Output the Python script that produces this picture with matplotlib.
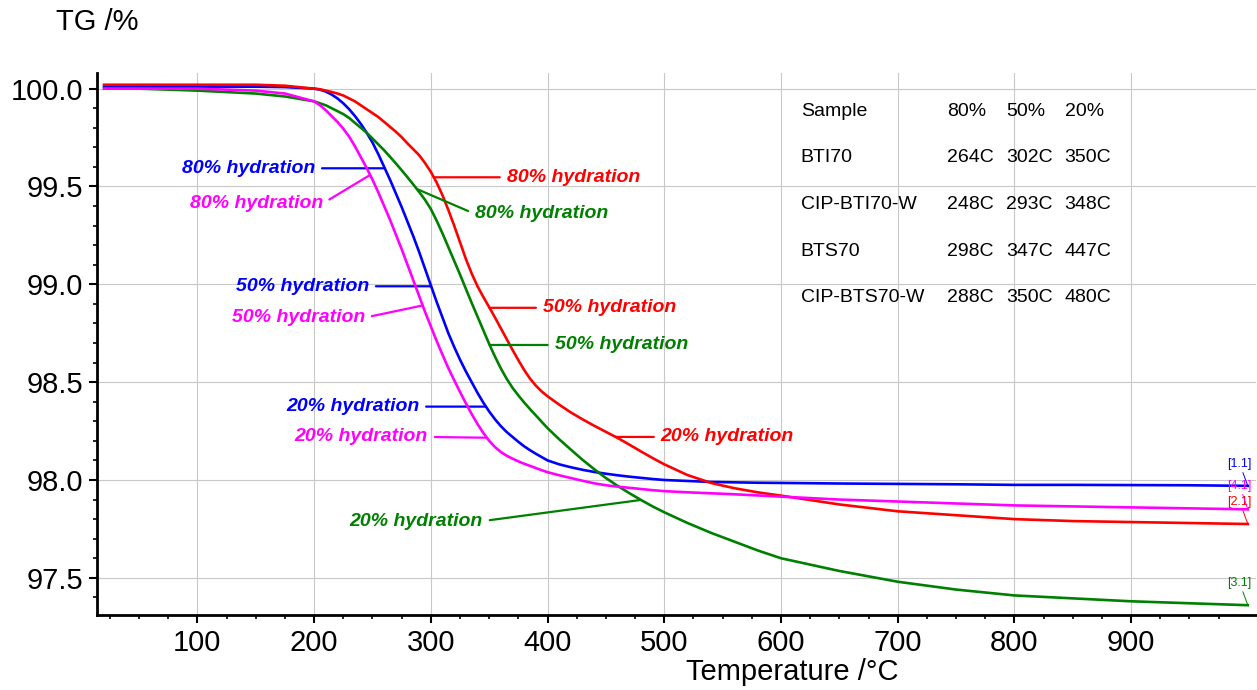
import numpy as np
import matplotlib.pyplot as plt
from matplotlib.ticker import MultipleLocator, FixedLocator, FormatStrFormatter

plt.rcParams['font.family'] = ['Liberation Sans', 'DejaVu Sans']

# TG curves: temperature (°C) and remaining mass (%)
temps = [20, 50, 100, 150, 175,
         200, 205, 210, 215, 220, 225, 230, 235, 240, 245, 250, 255, 260, 265, 270,
         275, 280, 285, 290, 295, 300, 305, 310, 315, 320, 325, 330, 335, 340, 345,
         350, 355, 360, 365, 370, 375, 380, 385, 390, 395, 400,
         410, 420, 430, 440, 450, 460, 470, 480, 490, 500,
         520, 540, 560, 580, 600,
         650, 700, 750, 800, 850, 900, 950, 1000]

tg_bti70 = [100.01, 100.01, 100.01, 100.01, 100.008,
            100.0, 99.995, 99.985, 99.97, 99.95, 99.925, 99.895, 99.86, 99.82, 99.775,
            99.725, 99.665, 99.60, 99.535, 99.465, 99.395, 99.32, 99.245, 99.165, 99.08,
            98.995, 98.91, 98.83, 98.75, 98.68, 98.615, 98.555, 98.50, 98.445, 98.395,
            98.35, 98.31, 98.275, 98.245, 98.22, 98.195, 98.172, 98.152, 98.134, 98.117, 98.10,
            98.08, 98.065, 98.052, 98.041, 98.032, 98.024, 98.017, 98.011, 98.005, 98.0,
            97.995, 97.99, 97.988, 97.986, 97.985,
            97.982, 97.98, 97.978, 97.975, 97.975, 97.974, 97.973, 97.97]

tg_bts70 = [100.02, 100.02, 100.02, 100.02, 100.015,
            100.0, 99.997, 99.99, 99.983, 99.975, 99.965, 99.95, 99.935, 99.915, 99.895,
            99.875, 99.855, 99.83, 99.805, 99.78, 99.752, 99.72, 99.69, 99.66, 99.62,
            99.575, 99.52, 99.455, 99.38, 99.30, 99.215, 99.13, 99.055, 98.99, 98.935,
            98.883, 98.83, 98.775, 98.72, 98.665, 98.612, 98.562, 98.518, 98.482, 98.452, 98.428,
            98.385, 98.345, 98.31, 98.277, 98.246, 98.215, 98.181, 98.146, 98.112, 98.08,
            98.025, 97.985, 97.958, 97.937, 97.92,
            97.875, 97.84, 97.82, 97.80, 97.79, 97.785, 97.78, 97.775]

tg_cip_bts70 = [100.0, 100.0, 99.99, 99.975, 99.96,
                99.935, 99.925, 99.915, 99.90, 99.885, 99.87, 99.85, 99.825, 99.80, 99.775,
                99.745, 99.715, 99.685, 99.652, 99.618, 99.583, 99.547, 99.51, 99.472, 99.432,
                99.385, 99.325, 99.26, 99.19, 99.12, 99.05, 98.977, 98.905, 98.835, 98.765,
                98.695, 98.63, 98.57, 98.517, 98.471, 98.432, 98.396, 98.362, 98.33, 98.297, 98.265,
                98.208, 98.155, 98.103, 98.055, 98.01, 97.97, 97.933, 97.898, 97.865, 97.835,
                97.78, 97.73, 97.685, 97.64, 97.60,
                97.535, 97.48, 97.44, 97.41, 97.395, 97.38, 97.37, 97.36]

tg_cip_bti70 = [100.0, 100.0, 100.0, 99.99, 99.975,
                99.935, 99.915, 99.89, 99.86, 99.83, 99.795, 99.755, 99.705, 99.65, 99.595,
                99.535, 99.47, 99.40, 99.33, 99.255, 99.18, 99.10, 99.02, 98.94, 98.86,
                98.785, 98.71, 98.64, 98.572, 98.51, 98.45, 98.392, 98.337, 98.286, 98.24,
                98.20, 98.168, 98.143, 98.124, 98.109, 98.095, 98.083, 98.072, 98.061, 98.05, 98.04,
                98.024, 98.01, 97.996, 97.983, 97.973, 97.966, 97.96, 97.954, 97.948, 97.943,
                97.937, 97.932, 97.927, 97.921, 97.915,
                97.90, 97.89, 97.88, 97.87, 97.865, 97.86, 97.855, 97.85]

# temperatures at 80 / 50 / 20 % remaining hydration
samples = ['BTI70', 'CIP-BTI70-W', 'BTS70', 'CIP-BTS70-W']
t80 = [264, 248, 298, 288]
t50 = [302, 293, 347, 350]
t20 = [350, 348, 447, 480]
levels = ['80%', '50%', '20%']

curves = {
    'BTI70': (tg_bti70, '#0000ff', '[1.1]'),
    'BTS70': (tg_bts70, '#ff0000', '[2.1]'),
    'CIP-BTS70-W': (tg_cip_bts70, '#008000', '[3.1]'),
    'CIP-BTI70-W': (tg_cip_bti70, '#ff00ff', '[4.1]'),
}

# label anchor (x, y), side of the curve, and whether the leader is horizontal
label_pos = {
    'BTI70': [(200.8, 99.593, 'r', True), (247, 98.99, 'r', True), (290, 98.375, 'r', True)],
    'CIP-BTI70-W': [(207.6, 99.414, 'r', False), (243.6, 98.83, 'r', False),
                    (297.5, 98.22, 'r', False)],
    'BTS70': [(365, 99.547, 'l', True), (396, 98.88, 'l', True), (497, 98.22, 'l', True)],
    'CIP-BTS70-W': [(337.6, 99.36, 'l', False), (406, 98.69, 'l', True),
                    (344.6, 97.79, 'r', False)],
}
end_label_y = {'[1.1]': 98.083, '[4.1]': 97.971, '[2.1]': 97.889, '[3.1]': 97.474}

fig = plt.figure(figsize=(12.57, 6.9), dpi=100)
ax = fig.add_axes([0.0772, 0.1087, 0.922, 0.7855])

for name, (tg, color, tag) in curves.items():
    ax.plot(temps, tg, color=color, lw=1.9, zorder=3)

    i = samples.index(name)
    for lvl, t, (tx, ty, side, flat) in zip(levels, (t80[i], t50[i], t20[i]), label_pos[name]):
        if flat:
            # leader runs level until it meets the curve
            target = (np.interp(ty, tg[::-1], temps[::-1]), ty)
        else:
            target = (t, np.interp(t, temps, tg))
        ha = 'right' if side == 'r' else 'left'
        rel = (1, 0.5) if side == 'r' else (0, 0.5)
        ax.annotate(f'{lvl} hydration', xy=target, xytext=(tx, ty),
                    ha=ha, va='center', color=color, fontsize=14,
                    fontweight='bold', fontstyle='italic',
                    arrowprops=dict(arrowstyle='-', color=color, lw=1.6,
                                    shrinkA=3, shrinkB=0, relpos=rel))

    ax.annotate(tag, xy=(temps[-1], tg[-1]), xytext=(993, end_label_y[tag]),
                ha='center', va='center', color=color, fontsize=9,
                arrowprops=dict(arrowstyle='-', color=color, lw=0.7,
                                shrinkA=0, shrinkB=0))

# onset table
col_x = [617, 742, 793, 843]
row_y = [99.885, 99.649, 99.409, 99.168, 98.933]
ax.text(col_x[0], row_y[0], 'Sample', fontsize=14, va='center')
for x, lvl in zip(col_x[1:], levels):
    ax.text(x, row_y[0], lvl, fontsize=14, va='center')
for i, s in enumerate(samples):
    y = row_y[i + 1]
    ax.text(col_x[0], y, s, fontsize=14, va='center')
    for x, t in zip(col_x[1:], (t80[i], t50[i], t20[i])):
        ax.text(x, y, f'{t}C', fontsize=14, va='center')

ax.set_xlim(14, 1007)
ax.set_ylim(97.31, 100.08)

ax.xaxis.set_major_locator(FixedLocator(np.arange(100, 1000, 100)))
ax.xaxis.set_minor_locator(FixedLocator(np.arange(25, 1000, 25)))
ax.yaxis.set_major_locator(MultipleLocator(0.5))
ax.yaxis.set_minor_locator(MultipleLocator(0.1))
ax.yaxis.set_major_formatter(FormatStrFormatter('%.1f'))

ax.tick_params(which='major', direction='out', length=6, width=1.5, labelsize=21)
ax.tick_params(which='minor', direction='out', length=3, width=1.2)
ax.tick_params(axis='x', which='major', pad=4)
ax.tick_params(axis='y', which='major', pad=4)

for side in ('top', 'right'):
    ax.spines[side].set_visible(False)
for side in ('left', 'bottom'):
    ax.spines[side].set_linewidth(2)

ax.grid(True, which='major', color='#c8c8c8', lw=0.8, zorder=0)

fig.text(97 / 1257, 1 - 22 / 690, 'TG /%', fontsize=21, ha='center', va='center')
fig.text(792 / 1257, 1 - 672 / 690, 'Temperature /°C', fontsize=21, ha='center', va='center')

fig.savefig('out.png', dpi=100)
